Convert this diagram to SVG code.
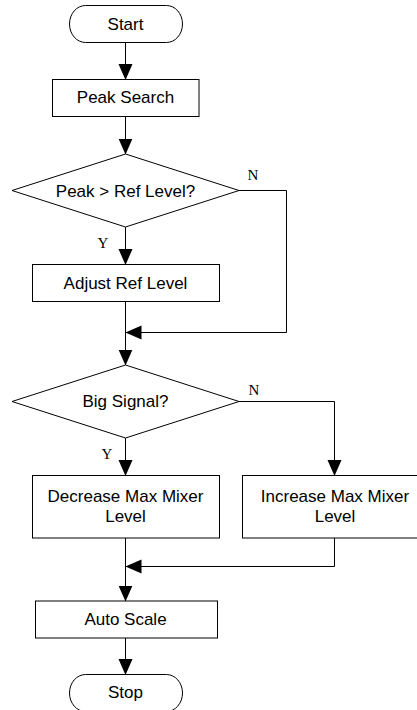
<svg xmlns="http://www.w3.org/2000/svg" width="417" height="710" viewBox="0 0 417 710">
<style>
.s{fill:#fff;stroke:#000;stroke-width:1}
.t{font-family:"Liberation Sans",Arial,sans-serif;font-size:17px;text-anchor:middle;fill:#000}
.l{font-family:"Liberation Serif","Times New Roman",serif;font-size:15px;text-anchor:middle;fill:#000}
.c{fill:none;stroke:#000;stroke-width:1}
</style>
<defs>
<marker id="ah" markerUnits="userSpaceOnUse" markerWidth="16" markerHeight="16" viewBox="0 0 16 14" refX="15.5" refY="7" orient="auto">
<path d="M0,0 L16,7 L0,14 Z" fill="#000"/>
</marker>
</defs>
<rect width="417" height="710" fill="#fff"/>
<g id="connectors">
<path class="c" d="M125.5,42.5 V79.5" marker-end="url(#ah)"/>
<path class="c" d="M125.5,116.5 V154" marker-end="url(#ah)"/>
<path class="c" d="M125.5,227 V264.5" marker-end="url(#ah)"/>
<path class="c" d="M239,190.5 H286.5 V332.5 H126" marker-end="url(#ah)"/>
<path class="c" d="M125.5,301.5 V365" marker-end="url(#ah)"/>
<path class="c" d="M239,401.5 H334.5 V475.5" marker-end="url(#ah)"/>
<path class="c" d="M125.5,438 V475.5" marker-end="url(#ah)"/>
<path class="c" d="M125.5,538 V601" marker-end="url(#ah)"/>
<path class="c" d="M334.5,538 V566.5 H126" marker-end="url(#ah)"/>
<path class="c" d="M125.5,638 V674.5" marker-end="url(#ah)"/>
<text class="l" x="253" y="180">N</text>
<text class="l" x="103" y="248">Y</text>
<text class="l" x="254" y="395">N</text>
<text class="l" x="107" y="459">Y</text>
</g>
<g id="start">
<rect class="s" x="69.5" y="5.5" width="113" height="37" rx="16" ry="18.5"/>
<text class="t" x="125.5" y="30">Start</text>
</g>
<g id="peak-search">
<rect class="s" x="52.5" y="79.5" width="146.5" height="37"/>
<text class="t" x="125.5" y="103">Peak Search</text>
</g>
<g id="peak-ref">
<polygon class="s" points="125.5,154 239,190.5 125.5,227 12,190.5"/>
<text class="t" x="125.5" y="196.5">Peak &gt; Ref Level?</text>
</g>
<g id="adjust-ref">
<rect class="s" x="32.5" y="264.5" width="187" height="37"/>
<text class="t" x="125.5" y="288.5">Adjust Ref Level</text>
</g>
<g id="big-signal">
<polygon class="s" points="125.5,365 239,401.5 125.5,438 12,401.5"/>
<text class="t" x="125.5" y="407">Big Signal?</text>
</g>
<g id="decrease">
<rect class="s" x="32.5" y="475.5" width="187" height="62.5"/>
<text class="t" x="125.5" y="501.5">Decrease Max Mixer</text>
<text class="t" x="125.5" y="522">Level</text>
</g>
<g id="increase">
<rect class="s" x="242.5" y="475.5" width="187" height="62.5"/>
<text class="t" x="335" y="501.5">Increase Max Mixer</text>
<text class="t" x="335" y="522">Level</text>
</g>
<g id="auto-scale">
<rect class="s" x="35.5" y="601" width="182" height="37"/>
<text class="t" x="125.5" y="625">Auto Scale</text>
</g>
<g id="stop">
<rect class="s" x="69.5" y="674.5" width="113" height="37" rx="16" ry="18.5"/>
<text class="t" x="125.5" y="698">Stop</text>
</g>
</svg>
